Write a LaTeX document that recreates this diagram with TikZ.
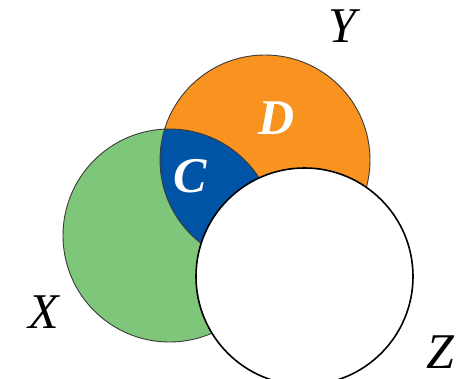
\documentclass[tikz,border=0pt]{standalone}
\usepackage{fontspec}
\setmainfont{Liberation Serif}
\definecolor{xgreen}{HTML}{7DC67A}
\definecolor{yorange}{HTML}{F7931E}
\definecolor{cblue}{HTML}{0054A6}
\definecolor{edge}{HTML}{3A3A3A}
\begin{document}
\begin{tikzpicture}[x=1pt,y=-1pt,
  setlabel/.style={font=\fontsize{50}{50}\selectfont\itshape, inner sep=0pt},
  regionlabel/.style={font=\fontsize{50}{50}\selectfont\bfseries\itshape, text=white, inner sep=0pt},
  thinedge/.style={draw=edge, line width=0.9pt}]
\useasboundingbox (0,0) rectangle (457,379);
\coordinate (cx) at (169.5,235.5);
\coordinate (cy) at (265,160);
\coordinate (cz) at (304.5,276.5);
\fill[xgreen] (cx) circle (106.5);
\fill[yorange] (cy) circle (105);
\begin{scope}
  \clip (cx) circle (106.5);
  \fill[cblue] (cy) circle (105);
\end{scope}
\draw[thinedge] (cx) circle (106.5);
\draw[thinedge] (cy) circle (105);
\filldraw[fill=white, draw=black, line width=1.6pt] (cz) circle (108.5);
\node[setlabel] (lx) at (44,312) {X};
\node[setlabel] (ly) at (342,26) {Y};
\node[setlabel] (lz) at (440,352) {Z};
\node[regionlabel] (lc) at (190,176) {C};
\node[regionlabel] (ld) at (277,118) {D};
\end{tikzpicture}
\end{document}
